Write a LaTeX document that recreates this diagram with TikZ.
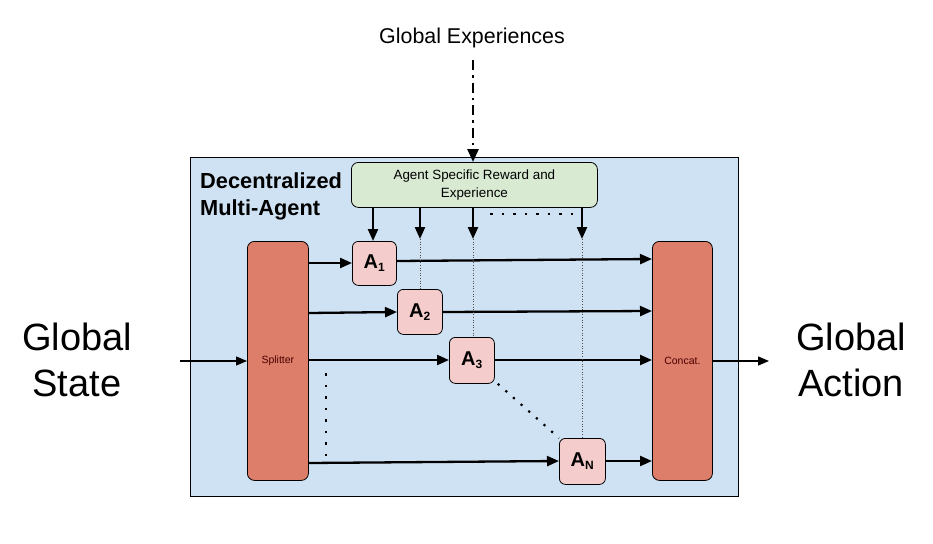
\documentclass[tikz,border=0pt]{standalone}
\usepackage{fontspec}
\setmainfont{Liberation Sans}
\usetikzlibrary{arrows.meta}
\definecolor{panelblue}{HTML}{CFE2F3}
\definecolor{rewardgreen}{HTML}{D9EAD3}
\definecolor{splitred}{HTML}{DD7E6B}
\definecolor{agentpink}{HTML}{F4CCCC}
\tikzset{
  bigbar/.style={draw=black, line width=0.8pt, fill=splitred, rounded corners=7pt, inner sep=0pt, font=\fontsize{10.5}{12}\selectfont, text=black!70!red},
  agent/.style={draw=black, line width=0.8pt, fill=agentpink, rounded corners=6pt, minimum width=44pt, minimum height=44pt, inner sep=0pt, font=\fontsize{20}{22}\selectfont\bfseries},
  flow/.style={line width=2.3pt, -{Triangle[length=12pt,width=10pt]}},
  thinflow/.style={line width=1.3pt, -{Triangle[length=11pt,width=9pt]}},
  dotline/.style={line width=2.5pt, dash pattern=on 2.5pt off 9pt},
  faintdot/.style={line width=0.6pt, dotted, black!70},
  bigtext/.style={font=\fontsize{38}{46}\selectfont, align=center}
}
\newcommand{\agsub}[1]{\textsubscript{\fontsize{12}{12}\selectfont #1}}
\begin{document}
\begin{tikzpicture}[x=1pt,y=-1pt]
\useasboundingbox (0,0) rectangle (933,543);
% panel
\node[draw=black, line width=0.8pt, fill=panelblue, minimum width=548pt, minimum height=339pt, inner sep=0pt, anchor=north west] (panel) at (190,157) {};
\node[anchor=north west, align=left, font=\fontsize{21.8}{27}\selectfont\bfseries, inner sep=0pt] (title) at (200,173) {Decentralized\\Multi-Agent};
% reward box
\node[draw=black, line width=0.8pt, fill=rewardgreen, rounded corners=7pt, minimum width=246pt, minimum height=45pt, inner sep=0pt, anchor=north west, align=center, font=\fontsize{13.4}{18}\selectfont] (reward) at (351,162) {Agent Specific Reward and\\Experience};
% global experiences
\node[font=\fontsize{21.4}{24}\selectfont] (gexp) at (472,38) {Global Experiences};
\coordinate (gexptop) at (473,60);
\draw[line width=2.5pt, dash pattern=on 10pt off 5pt on 2.5pt off 5pt, -{Triangle[length=13pt,width=11pt]}] (gexptop) -- (reward.north -| gexptop);
% bars
\node[bigbar, minimum width=61pt, minimum height=239pt, anchor=north west] (split) at (247,241) {Splitter};
\node[bigbar, minimum width=60pt, minimum height=239pt, anchor=north west] (concat) at (652,241) {Concat.};
% agents
\node[agent, anchor=north west] (a1) at (352,241) {A\agsub{1}};
\node[agent, anchor=north west, minimum width=45pt, minimum height=45pt] (a2) at (397,289) {A\agsub{2}};
\node[agent, anchor=north west, minimum width=45pt, minimum height=46pt] (a3) at (449,337) {A\agsub{3}};
\node[agent, anchor=north west, minimum width=46pt, minimum height=46pt] (an) at (559,438) {A\agsub{N}};
% splitter to agents
\draw[flow] (split.east |- 0,263) -- (a1.west |- 0,263);
\draw[flow] (split.east |- 0,313) -- (a2.west |- 0,312);
\draw[flow] (split.east |- 0,360) -- (a3.west |- 0,360);
\draw[flow] (split.east |- 0,463) -- (an.west |- 0,461);
% agents to concat
\draw[flow] (a1.east |- 0,261) -- (concat.west |- 0,259);
\draw[flow] (a2.east |- 0,312) -- (concat.west |- 0,311);
\draw[flow] (a3.east |- 0,360) -- (concat.west |- 0,360);
\draw[flow] (an.east |- 0,461) -- (concat.west |- 0,461);
% global state/action
\node[bigtext] (gstate) at (77,360) {Global\\State};
\node[bigtext] (gaction) at (851,360) {Global\\Action};
\coordinate (instart) at (180,361);
\coordinate (outend) at (769,361);
\draw[thinflow] (instart) -- (split.west |- instart);
\draw[thinflow] (concat.east |- outend) -- (outend);
% reward arrows
\draw[flow] (reward.south -| 373,0) -- (a1.north -| 373,0);
\coordinate (r2) at (420,239);
\coordinate (r3) at (473,239);
\coordinate (r4) at (582,239);
\draw[flow] (reward.south -| r2) -- (r2);
\draw[flow] (reward.south -| r3) -- (r3);
\draw[flow] (reward.south -| r4) -- (r4);
\draw[faintdot] (r2) -- (a2.north -| r2);
\draw[faintdot] (r3) -- (a3.north -| r3);
\draw[faintdot] (r4) -- (an.north -| r4);
% dotted separators
\coordinate (dl) at (490,214);
\coordinate (dr) at (575,214);
\draw[dotline] (dl) -- (dr);
\coordinate (vt) at (326,373);
\coordinate (vb) at (326,460);
\draw[line width=2.5pt, dash pattern=on 2.5pt off 9pt] (vt) -- (vb);
\draw[line width=2.2pt, dash pattern=on 2.2pt off 8pt] (a3.south east) ++(3,0) -- (an.north west);
\end{tikzpicture}
\end{document}
